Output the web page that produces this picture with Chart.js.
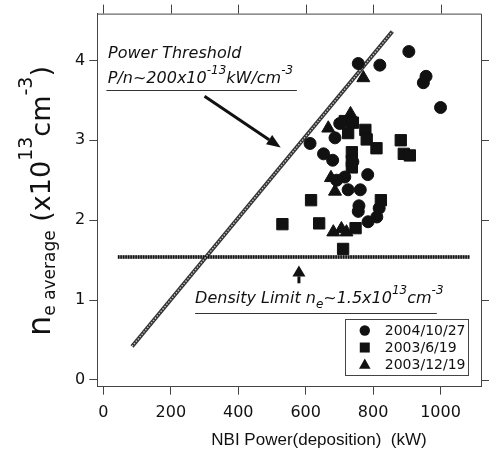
<!DOCTYPE html>
<html>
<head>
<meta charset="utf-8">
<script src="https://cdn.jsdelivr.net/npm/chart.js"></script>
<style>
  html, body { margin: 0; padding: 0; background: #fff; }
  #wrap { width: 490px; height: 466px; }
</style>
</head>
<body>
<div id="wrap"><canvas id="scatterChart" width="490" height="466"></canvas></div>
<script>
// values
const xTicks = [0, 200, 400, 600, 800, 1000];
const yTicks = [0, 1, 2, 3, 4];

// 2004/10/27
const circleX = [756, 820, 906, 957, 949, 1000, 701, 687, 613, 653, 680, 740, 692, 716, 784, 726, 762, 758, 756, 818, 811, 785];
const circleY = [3.96, 3.94, 4.11, 3.80, 3.72, 3.41, 3.21, 3.03, 2.96, 2.83, 2.75, 2.73, 2.50, 2.54, 2.57, 2.38, 2.38, 2.18, 2.11, 2.15, 2.04, 1.98];
// 2003/6/19
const squareX = [716, 740, 726, 777, 781, 810, 882, 891, 909, 737, 737, 737, 616, 823, 531, 640, 748, 711];
const squareY = [3.24, 3.22, 3.09, 3.13, 3.01, 2.90, 3.00, 2.83, 2.81, 2.85, 2.74, 2.66, 2.25, 2.25, 1.95, 1.96, 1.90, 1.64];
// 2003/12/19
const triangleX = [771, 733, 667, 675, 687, 682, 706, 721];
const triangleY = [3.78, 3.33, 3.15, 2.53, 2.36, 1.85, 1.89, 1.85];

// power threshold P/n ~ 200, and density limit line
const thresholdX = [85, 857];
const thresholdY = [0.42, 4.36];
const limitX = [43, 1086];
const limitY = [1.54, 1.54];

const seriesNames = ['2004/10/27', '2003/6/19', '2003/12/19'];

function toPoints(xs, ys) {
  return xs.map((x, i) => ({ x: x, y: ys[i] }));
}

const ink = '#111';
const axisColor = '#444';

// draw a run of text pieces (for sub/superscripts), returns end x
function drawRuns(ctx, x, y, runs, family, italic) {
  runs.forEach(function (r) {
    ctx.font = (italic ? 'italic ' : '') + r.size + 'px ' + family;
    ctx.fillText(r.t, x, y + r.dy);
    x += ctx.measureText(r.t).width + (r.gap || 0);
  });
  return x;
}

function arrow(ctx, x1, y1, x2, y2, headLen, headW, lw) {
  const ang = Math.atan2(y2 - y1, x2 - x1);
  const bx = x2 - Math.cos(ang) * headLen;
  const by = y2 - Math.sin(ang) * headLen;
  ctx.lineWidth = lw;
  ctx.beginPath();
  ctx.moveTo(x1, y1);
  ctx.lineTo(bx, by);
  ctx.stroke();
  ctx.beginPath();
  ctx.moveTo(x2, y2);
  ctx.lineTo(bx + Math.sin(ang) * headW / 2, by - Math.cos(ang) * headW / 2);
  ctx.lineTo(bx - Math.sin(ang) * headW / 2, by + Math.cos(ang) * headW / 2);
  ctx.closePath();
  ctx.fill();
}

function marker(ctx, style, x, y, r) {
  ctx.beginPath();
  if (style === 'circle') {
    ctx.arc(x, y, r, 0, Math.PI * 2);
  } else if (style === 'rect') {
    ctx.rect(x - r, y - r, 2 * r, 2 * r);
  } else {
    ctx.moveTo(x, y - r * 1.1);
    ctx.lineTo(x + r * 1.05, y + r * 0.75);
    ctx.lineTo(x - r * 1.05, y + r * 0.75);
    ctx.closePath();
  }
  ctx.fill();
}

function hline(ctx, x1, x2, y) {
  ctx.lineWidth = 1;
  ctx.beginPath();
  ctx.moveTo(x1, Math.round(y) + 0.5);
  ctx.lineTo(x2, Math.round(y) + 0.5);
  ctx.stroke();
}

const extras = {
  id: 'extras',
  afterDraw(chart) {
    const ctx = chart.ctx;
    const a = chart.chartArea;
    const xs = chart.scales.x;
    const ys = chart.scales.y;
    const px = (v) => xs.getPixelForValue(v);
    const py = (v) => ys.getPixelForValue(v);
    ctx.save();

    // frame top/right + mirror ticks
    ctx.strokeStyle = axisColor;
    ctx.lineWidth = 1;
    ctx.beginPath();
    ctx.moveTo(a.left, a.top + 0.5);
    ctx.lineTo(a.right + 0.5, a.top + 0.5);
    ctx.lineTo(a.right + 0.5, a.bottom);
    xTicks.forEach(function (v) {
      const x = Math.round(px(v)) + 0.5;
      ctx.moveTo(x, a.top);
      ctx.lineTo(x, a.top - 9);
    });
    yTicks.forEach(function (v) {
      const y = Math.round(py(v)) + 0.5;
      ctx.moveTo(a.right, y);
      ctx.lineTo(a.right + 8, y);
    });
    ctx.stroke();

    ctx.fillStyle = ink;
    ctx.strokeStyle = ink;
    ctx.textBaseline = 'alphabetic';
    ctx.textAlign = 'left';
    const fam = '"DejaVu Sans"';

    // power threshold label
    ctx.font = 'italic 16px ' + fam;
    ctx.fillText('Power Threshold', px(14), py(4.03));
    drawRuns(ctx, px(13), py(3.72), [
      { t: 'P/n~200x10', size: 16, dy: 0 },
      { t: '-13', size: 12, dy: -9 },
      { t: 'kW/cm', size: 16, dy: 0 },
      { t: '-3', size: 12, dy: -9 }
    ], fam, true);
    ctx.strokeStyle = '#333';
    hline(ctx, px(9), px(574), py(3.625));
    ctx.strokeStyle = ink;
    arrow(ctx, px(300), py(3.55), px(526), py(2.91), 14, 11, 3);

    // density limit label
    drawRuns(ctx, px(272), py(0.964), [
      { t: 'Density Limit n', size: 16, dy: 0 },
      { t: 'e', size: 12, dy: 5 },
      { t: '~1.5x10', size: 16, dy: 0 },
      { t: '13', size: 12, dy: -9 },
      { t: 'cm', size: 16, dy: 0 },
      { t: '-3', size: 12, dy: -9 }
    ], fam, true);
    ctx.strokeStyle = '#333';
    hline(ctx, px(272), px(989), py(0.84));
    ctx.strokeStyle = ink;
    arrow(ctx, px(580), py(1.21), px(580), py(1.434), 11, 13, 3);

    // legend
    const lx = px(716), ly = py(0.769);
    const lw = px(1081) - lx, lh = py(0.062) - ly;
    ctx.fillStyle = '#fff';
    ctx.fillRect(lx, ly, lw, lh);
    ctx.strokeStyle = axisColor;
    ctx.lineWidth = 1;
    ctx.strokeRect(Math.round(lx) + 0.5, Math.round(ly) + 0.5, Math.round(lw), Math.round(lh));
    ctx.fillStyle = ink;
    ctx.font = '14px ' + fam;
    ctx.textBaseline = 'middle';
    const styles = ['circle', 'rect', 'triangle'];
    const sizes = [5.2, 5, 5.5];
    seriesNames.forEach(function (name, i) {
      const yy = ly + 12 + i * 17;
      marker(ctx, styles[i], lx + 20, yy, sizes[i]);
      ctx.fillText(name, lx + 40, yy + 1);
    });

    // x axis title
    ctx.textBaseline = 'alphabetic';
    ctx.textAlign = 'center';
    ctx.font = '17px "Liberation Sans"';
    ctx.fillText('NBI Power(deposition)  (kW)', 319, 445);

    // y axis title, rotated
    ctx.textAlign = 'left';
    ctx.translate(50, 336);
    ctx.rotate(-Math.PI / 2);
    drawRuns(ctx, 0, 0, [
      { t: 'n', size: 32, dy: 0 },
      { t: 'e average', size: 17, dy: 5 },
      { t: ' (x10', size: 27, dy: 0 },
      { t: '13', size: 19, dy: -18 },
      { t: 'cm', size: 27, dy: 0 },
      { t: '-3', size: 19, dy: -18 },
      { t: ')', size: 27, dy: 0 }
    ], fam, false);
    ctx.restore();
  }
};

const scatterChart = new Chart(document.getElementById('scatterChart'), {
  type: 'scatter',
  data: {
    datasets: [
      {
        label: seriesNames[0],
        data: toPoints(circleX, circleY),
        pointStyle: 'circle',
        pointRadius: 6,
        backgroundColor: ink,
        borderColor: ink,
        borderWidth: 1,
        order: 0
      },
      {
        label: seriesNames[1],
        data: toPoints(squareX, squareY),
        pointStyle: 'rect',
        pointRadius: 8,
        backgroundColor: ink,
        borderColor: ink,
        borderWidth: 1,
        order: 0
      },
      {
        label: seriesNames[2],
        data: toPoints(triangleX, triangleY),
        pointStyle: 'triangle',
        pointRadius: 7.5,
        backgroundColor: ink,
        borderColor: ink,
        borderWidth: 1,
        order: 0
      },
      {
        label: 'threshold',
        data: toPoints(thresholdX, thresholdY),
        showLine: true,
        pointRadius: 0,
        borderColor: '#333',
        borderWidth: 4,
        order: 2
      },
      {
        label: 'threshold-inner',
        data: toPoints(thresholdX, thresholdY),
        showLine: true,
        pointRadius: 0,
        borderColor: '#c8c8c8',
        borderWidth: 1.4,
        borderDash: [1.5, 1.5],
        order: 1
      },
      {
        label: 'limit',
        data: toPoints(limitX, limitY),
        showLine: true,
        pointRadius: 0,
        borderColor: '#888',
        borderWidth: 3.5,
        order: 2
      },
      {
        label: 'limit-dots',
        data: toPoints(limitX, limitY),
        showLine: true,
        pointRadius: 0,
        borderColor: '#111',
        borderWidth: 3.5,
        borderDash: [1.5, 1],
        order: 1
      }
    ]
  },
  options: {
    responsive: false,
    animation: false,
    devicePixelRatio: 1,
    layout: { padding: { top: 12.3, right: 3.3, left: 0, bottom: 0 } },
    plugins: {
      legend: { display: false },
      tooltip: { enabled: false }
    },
    scales: {
      x: {
        type: 'linear',
        min: -18,
        max: 1120,
        afterBuildTicks: (s) => { s.ticks = xTicks.map((v) => ({ value: v })); },
        afterFit: (s) => { s.height = 79.3; },
        grid: { drawOnChartArea: false, drawTicks: true, tickLength: 8, color: axisColor },
        border: { display: true, color: axisColor, width: 1 },
        ticks: {
          color: ink, padding: 9, maxRotation: 0,
          font: { family: 'DejaVu Sans', size: 16 },
          callback: (v) => String(v)
        }
      },
      y: {
        type: 'linear',
        min: -0.084,
        max: 4.585,
        afterBuildTicks: (s) => { s.ticks = yTicks.map((v) => ({ value: v })); },
        afterFit: (s) => { s.width = 97.3; },
        grid: { drawOnChartArea: false, drawTicks: true, tickLength: 8, color: axisColor },
        border: { display: true, color: axisColor, width: 1 },
        ticks: {
          color: ink, padding: 4,
          font: { family: 'DejaVu Sans', size: 16 },
          callback: (v) => String(v)
        }
      }
    }
  },
  plugins: [extras]
});
</script>
</body>
</html>
